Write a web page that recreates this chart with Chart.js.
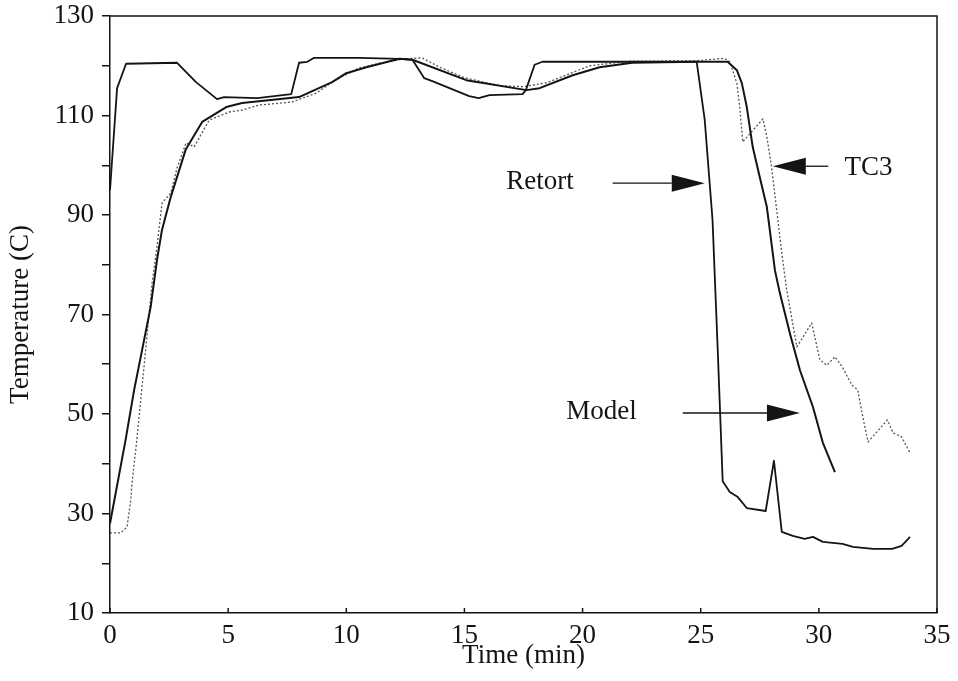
<!DOCTYPE html>
<html>
<head>
<meta charset="utf-8">
<script src="https://cdn.jsdelivr.net/npm/chart.js@4.4.1/dist/chart.umd.min.js"></script>
<style>
  html, body { margin: 0; padding: 0; background: #fff; }
  #wrap { width: 958px; height: 681px; }
</style>
</head>
<body>
<div id="wrap"><canvas id="chart-temp" width="958" height="681"></canvas></div>
<script>
const xTicks = [0, 5, 10, 15, 20, 25, 30, 35];
const yTicks = [10, 30, 50, 70, 90, 110, 130];

const retortTime = [0, 0.3, 0.68, 2.84, 3.64, 4.53, 4.83, 6.23, 7.67, 8.0, 8.35, 8.64, 10.55, 12.25, 12.8, 13.3, 13.64, 15.2, 15.6, 16.06, 17.46, 17.6, 17.97, 18.3, 24.83, 25.17, 25.5, 25.72, 25.93, 26.23, 26.57, 26.95, 27.75, 28.1, 28.43, 28.9, 29.4, 29.75, 30.17, 31.0, 31.44, 32.3, 33.1, 33.5, 33.86];
const retortTemp = [95, 115.5, 120.4, 120.6, 116.7, 113.3, 113.7, 113.5, 114.3, 120.6, 120.8, 121.6, 121.6, 121.4, 121.2, 117.5, 116.9, 113.9, 113.5, 114.1, 114.3, 115.1, 120.2, 120.8, 120.8, 109.1, 89, 62.9, 36.5, 34.3, 33.3, 31.1, 30.5, 40.6, 26.3, 25.5, 24.9, 25.3, 24.3, 23.9, 23.3, 22.9, 22.9, 23.5, 25.3];

const modelTime = [0, 0.66, 1.02, 1.36, 1.72, 1.99, 2.2, 2.57, 3.2, 3.9, 4.92, 5.59, 8.0, 8.56, 9.4, 10.0, 10.85, 12.25, 12.8, 15.08, 17.63, 18.18, 19.58, 20.72, 22.1, 24.83, 26.14, 26.53, 26.74, 26.95, 27.2, 27.5, 27.8, 28.14, 28.35, 28.77, 29.2, 29.75, 30.17, 30.68];
const modelTemp = [28, 44.8, 54.8, 62.9, 71.5, 81, 87, 93.6, 103.1, 108.7, 111.7, 112.5, 113.7, 114.9, 116.7, 118.5, 119.7, 121.4, 121.2, 117.1, 115.1, 115.5, 118.1, 119.7, 120.6, 120.8, 120.8, 119.1, 116.5, 111.7, 103.7, 97.6, 91.6, 78.9, 74.3, 66.3, 58.8, 51.4, 44.2, 38.3];

const tc3Time = [0, 0.45, 0.72, 0.88, 0.93, 1.09, 1.23, 1.51, 1.78, 1.99, 2.2, 2.57, 2.84, 3.22, 3.56, 4.2, 5.04, 5.6, 6.3, 7.7, 8.73, 9.5, 10.5, 11.5, 12.5, 13.2, 14.0, 15.0, 16.5, 17.5, 18.5, 19.5, 20.3, 22.0, 24.8, 26.0, 26.23, 26.53, 26.65, 26.78, 27.63, 27.8, 28.0, 28.2, 28.43, 28.64, 29.07, 29.7, 30.04, 30.34, 30.68, 31.0, 31.4, 31.65, 31.8, 32.08, 32.9, 33.14, 33.5, 33.86];
const tc3Temp = [26.1, 26.1, 27.3, 32.7, 36.1, 42.8, 49.4, 62.9, 76.3, 83.6, 92.4, 94.4, 99.5, 104.5, 103.7, 109.1, 110.7, 111.1, 112.1, 112.7, 114.5, 117, 119.5, 120.6, 121.4, 121.6, 119.6, 117.6, 116, 115.8, 116.6, 118.5, 120, 120.9, 121.0, 121.5, 120.8, 116.5, 111.7, 104.7, 109.3, 105.7, 99.6, 91.6, 82.4, 74.9, 63.5, 68.3, 60.9, 59.8, 61.5, 59.4, 55.8, 54.8, 50.8, 44.4, 48.8, 46.2, 45.4, 42.2];

// labels with arrows, in data units: text centre, arrow tail, arrow tip
const labelNames = ["Retort", "TC3", "Model"];
const labelAt = [[18.2, 96.6], [32.1, 99.4], [20.8, 50.4]];
const arrowFrom = [[21.27, 96.4], [30.4, 99.8], [24.24, 50.2]];
const arrowTo = [[25.17, 96.4], [28.05, 99.8], [29.2, 50.2]];

const FONT = "'Liberation Serif', 'DejaVu Serif', serif";
const INK = "#141414";

const toPoints = (xs, ys) => xs.map((x, i) => ({ x, y: ys[i] }));

const extras = {
    id: "extras",
    afterDraw(chart) {
        const { ctx, chartArea: a, scales } = chart;
        ctx.save();
        ctx.strokeStyle = INK;
        ctx.lineWidth = 1.5;
        // top and right frame
        ctx.beginPath();
        ctx.moveTo(a.left, a.top);
        ctx.lineTo(a.right, a.top);
        ctx.lineTo(a.right, a.bottom);
        ctx.stroke();
        // short inward ticks on the time axis
        xTicks.forEach((t) => {
            const px = scales.x.getPixelForValue(t);
            ctx.beginPath();
            ctx.moveTo(px, a.bottom);
            ctx.lineTo(px, a.bottom - 5);
            ctx.stroke();
        });
        // annotations
        ctx.fillStyle = INK;
        ctx.font = "27px " + FONT;
        ctx.textAlign = "center";
        ctx.textBaseline = "middle";
        labelNames.forEach((name, i) => {
            ctx.fillText(name, scales.x.getPixelForValue(labelAt[i][0]), scales.y.getPixelForValue(labelAt[i][1]));
            const x0 = scales.x.getPixelForValue(arrowFrom[i][0]);
            const x1 = scales.x.getPixelForValue(arrowTo[i][0]);
            const y = scales.y.getPixelForValue(arrowTo[i][1]);
            const dir = x1 > x0 ? 1 : -1;
            const headLen = 33;
            ctx.lineWidth = 1.3;
            ctx.beginPath();
            ctx.moveTo(x0, y);
            ctx.lineTo(x1 - dir * headLen, y);
            ctx.stroke();
            ctx.beginPath();
            ctx.moveTo(x1, y);
            ctx.lineTo(x1 - dir * headLen, y - 8.5);
            ctx.lineTo(x1 - dir * headLen, y + 8.5);
            ctx.closePath();
            ctx.fill();
        });
        ctx.restore();
    },
};

const ctx = document.getElementById("chart-temp").getContext("2d");
new Chart(ctx, {
    type: "line",
    data: {
        datasets: [
            {
                label: "Retort",
                data: toPoints(retortTime, retortTemp),
                borderColor: INK,
                borderWidth: 1.8,
            },
            {
                label: "Model",
                data: toPoints(modelTime, modelTemp),
                borderColor: INK,
                borderWidth: 2,
            },
            {
                label: "TC3",
                data: toPoints(tc3Time, tc3Temp),
                borderColor: "#555",
                borderWidth: 1.3,
                borderDash: [2, 2],
            },
        ],
    },
    options: {
        responsive: false,
        animation: false,
        devicePixelRatio: 1,
        layout: { padding: { top: 16, right: 21, left: 0, bottom: 0 } },
        elements: { point: { radius: 0 }, line: { tension: 0, borderJoinStyle: "round" } },
        plugins: { legend: { display: false }, tooltip: { enabled: false } },
        scales: {
            x: {
                type: "linear",
                min: 0,
                max: 35,
                afterFit: (s) => {
                    s.height = 68;
                    s.paddingLeft = 0;
                    s.paddingRight = 0;
                },
                afterBuildTicks: (s) => { s.ticks = xTicks.map((v) => ({ value: v })); },
                grid: { drawOnChartArea: false, drawTicks: false },
                border: { display: true, color: INK, width: 1.5 },
                ticks: { color: INK, font: { family: FONT, size: 27 }, padding: 7, maxRotation: 0 },
                title: { display: true, text: "Time (min)", color: INK, font: { family: FONT, size: 27 }, padding: { top: 0, bottom: 9 } },
            },
            y: {
                type: "linear",
                min: 10,
                max: 130,
                afterFit: (s) => {
                    s.width = 110;
                    s.paddingTop = 0;
                    s.paddingBottom = 0;
                },
                ticks: {
                    stepSize: 10,
                    autoSkip: false,
                    color: INK,
                    font: { family: FONT, size: 27 },
                    padding: 8,
                    callback: (v) => (yTicks.includes(v) ? String(v) : ""),
                },
                grid: { drawOnChartArea: false, drawTicks: true, tickLength: 8, color: INK, lineWidth: 1.5 },
                border: { display: true, color: INK, width: 1.5 },
                title: { display: true, text: "Temperature (C)", color: INK, font: { family: FONT, size: 27 }, padding: { top: 5, bottom: 0 } },
            },
        },
    },
    plugins: [extras],
});
</script>
</body>
</html>
